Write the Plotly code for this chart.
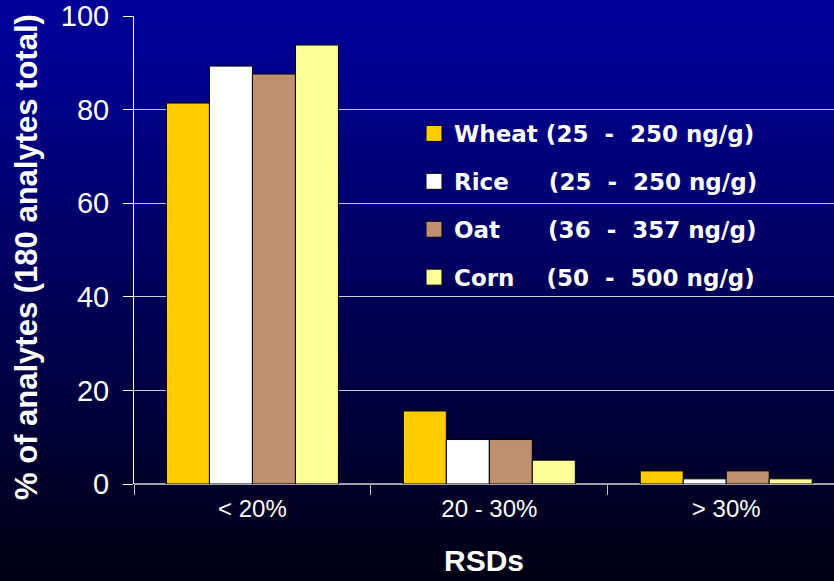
import base64
import plotly.graph_objects as go

categories = ["< 20%", "20 - 30%", "> 30%"]
NB = "\u00a0"
series_names = ["Wheat (25" + NB + " - " + NB + "250 ng/g)",
                "Rice" + NB * 5 + "(25" + NB + " - " + NB + "250 ng/g)",
                "Oat" + NB * 6 + "(36" + NB + " - " + NB + "357 ng/g)",
                "Corn" + NB * 4 + "(50" + NB + " - " + NB + "500 ng/g)"]
wheat = [81.4, 15.6, 2.8]
rice = [89.3, 9.5, 1.1]
oat = [87.6, 9.5, 2.8]
corn = [93.8, 5.1, 1.1]
colors = ["#FFCC00", "#FFFFFF", "#BF9070", "#FFFF99"]
y_ticks = [0, 20, 40, 60, 80, 100]
y_title = "% of analytes (180 analytes total)"
x_title = "RSDs"

W, H = 834, 581
ML, MR, MT, MB = 134, 0, 16, 97
PW, PH = W - ML - MR, H - MT - MB

svg = ('<svg xmlns="http://www.w3.org/2000/svg" width="100" height="100" preserveAspectRatio="none">'
       '<defs><linearGradient id="g" x1="0" y1="0" x2="0" y2="1">'
       '<stop offset="0" stop-color="#000098"/>'
       '<stop offset="0.12" stop-color="#000090"/>'
       '<stop offset="1" stop-color="#000012"/>'
       '</linearGradient></defs>'
       '<rect x="0" y="0" width="100" height="100" fill="url(#g)"/></svg>')
bg_uri = "data:image/svg+xml;base64," + base64.b64encode(svg.encode()).decode()

fig = go.Figure()
for i, (name, vals) in enumerate(zip(series_names, [wheat, rice, oat, corn])):
    fig.add_trace(go.Bar(
        x=categories, y=vals, name=name,
        marker=dict(color=colors[i], line=dict(color="#000000", width=1)),
        showlegend=False,
    ))
# legend entries with larger square swatches
for i, name in enumerate(series_names):
    fig.add_trace(go.Scatter(
        x=[None], y=[None], mode="markers", name=name,
        marker=dict(symbol="square", size=16, color=colors[i],
                    line=dict(color="#000000", width=1)),
        legendgroup=str(i), showlegend=True, hoverinfo="skip",
    ))

fig.update_layout(
    width=W, height=H,
    margin=dict(l=ML, r=MR, t=MT, b=MB, pad=0),
    paper_bgcolor="#000040",
    plot_bgcolor="rgba(0,0,0,0)",
    barmode="group",
    bargap=0.274,
    bargroupgap=0,
    font=dict(family="Liberation Sans, Arial, sans-serif", color="white"),
    images=[dict(
        source=bg_uri, xref="paper", yref="paper",
        x=-ML / PW, y=1 + MT / PH, sizex=W / PW, sizey=H / PH,
        xanchor="left", yanchor="top", sizing="stretch", layer="below",
    )],
    showlegend=True,
    legend=dict(
        x=(414 - ML) / PW, y=1 - (112 - MT) / PH, xanchor="left", yanchor="top",
        bgcolor="rgba(0,0,0,0)",
        font=dict(family="DejaVu Sans", size=23, color="white", weight="bold"),
        tracegroupgap=15,
        itemsizing="trace",
        itemwidth=30,
    ),
    annotations=[dict(
        text="<b>" + y_title + "</b>", textangle=-90,
        xref="paper", yref="paper",
        x=(26 - ML) / PW, y=1 - (257 - MT) / PH,
        xanchor="center", yanchor="middle", showarrow=False,
        font=dict(size=31, color="white"),
    )],
    xaxis=dict(
        type="category",
        range=[-0.5, 2.455],
        tickson="boundaries",
        ticks="outside", ticklen=10, tickcolor="#c0c0c0", tickwidth=1,
        showgrid=False,
        tickfont=dict(size=24, color="white"),
        ticklabelstandoff=8,
        title=dict(text="<b>" + x_title + "</b>", font=dict(size=30, color="white"), standoff=28),
        showline=False,
        zeroline=False,
    ),
    yaxis=dict(
        range=[0, 100],
        tickvals=y_ticks,
        ticks="outside", ticklen=10, tickcolor="white", tickwidth=1,
        tickfont=dict(size=29, color="white"),
        ticklabelstandoff=8,
        showgrid=True, gridcolor="#c8c8d8", gridwidth=1,
        showline=True, linecolor="white", linewidth=1,
        zeroline=True, zerolinecolor="#a0a0a8", zerolinewidth=2,
    ),
)

fig.write_html("out.html", config={"displayModeBar": False},
               post_script="document.body.style.margin='0';")
